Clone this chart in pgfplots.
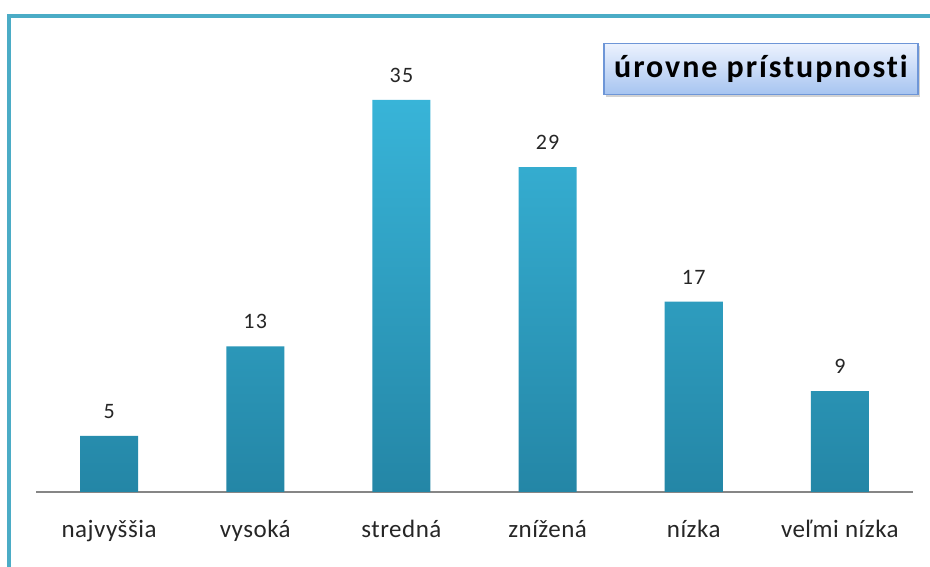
\documentclass[border=0pt]{standalone}
\usepackage{pgfplots}
\pgfplotsset{compat=1.18}
\usepackage{fontspec}
\setmainfont{Carlito}[Ligatures=NoCommon, LetterSpace=6]
\usetikzlibrary{shadows}
\definecolor{frame}{RGB}{75,172,198}
\definecolor{bartop}{RGB}{56,180,216}
\definecolor{barbot}{RGB}{36,134,166}
\definecolor{axisgray}{RGB}{134,134,134}
\definecolor{boxtop}{RGB}{236,242,254}
\definecolor{boxbot}{RGB}{166,196,240}
\definecolor{boxborder}{RGB}{110,150,215}
\begin{document}
\begin{tikzpicture}[x=1pt,y=1pt]
\path[use as bounding box] (0,0) rectangle (930,567);
\fill[white] (0,0) rectangle (930,567);
\begin{axis}[
  at={(36pt,75pt)}, anchor=south west,
  scale only axis,
  width=877pt, height=448pt,
  xmin=-0.5, xmax=5.5, ymin=0, ymax=40,
  axis x line=bottom, axis y line=none,
  x axis line style={axisgray, line width=1.3pt, -},
  xtick={0,1,2,3,4,5},
  xticklabels={najvyššia,vysoká,stredná,znížená,nízka,veľmi nízka},
  major tick length=0pt,
  xticklabel style={font=\fontsize{25}{28}\selectfont\addfontfeature{LetterSpace=2}, text=black!85, yshift=-25pt},
  ytick=\empty,
  ybar, bar width=58pt,
  nodes near coords,
  /pgf/number format/assume math mode=true,
  every node near coord/.append style={font=\fontsize{22}{25}\selectfont, text=black!85, yshift=14pt},
  clip=false,
]
\addplot[draw=none, top color=bartop, bottom color=barbot] coordinates {(0,5) (1,13) (2,35) (3,29) (4,17) (5,9)};
\end{axis}
\draw[frame, line width=4pt] (8.5,0) -- (8.5,551) -- (930,551);
\node[draw=boxborder, line width=1.2pt, top color=boxtop, bottom color=boxbot,
  drop shadow={opacity=0.35, shadow xshift=2pt, shadow yshift=-3pt},
  minimum width=314pt, minimum height=51pt, inner sep=0pt,
  font=\fontsize{32}{36}\selectfont\bfseries]
  at (761,498) {úrovne prístupnosti};
\end{tikzpicture}
\end{document}
